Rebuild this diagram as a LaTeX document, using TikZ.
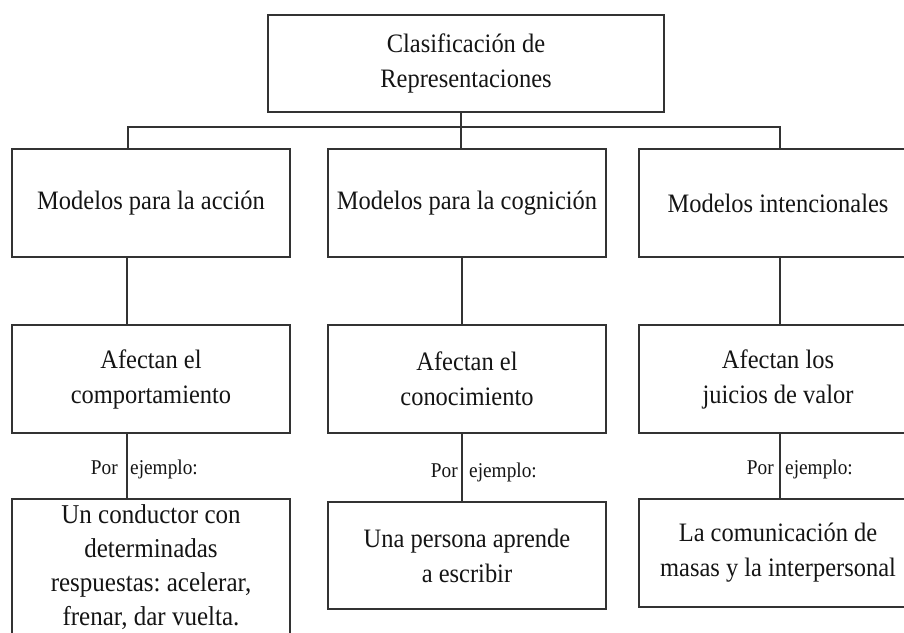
\documentclass[tikz,border=0pt]{standalone}
\usepackage{fontspec}
\setmainfont[FakeStretch=0.92]{Liberation Serif}
\frenchspacing
\begin{document}
\begin{tikzpicture}[x=1pt,y=-1pt,
  box/.style={draw=black!80, line width=1.2pt, rectangle, inner sep=0pt,
    minimum width=278pt, minimum height=108pt, align=center,
    font=\fontsize{26.6}{35}\selectfont, text=black!92},
  link/.style={draw=black!80, line width=1.2pt},
  ej/.style={font=\fontsize{21}{22}\selectfont, text=black!92, inner sep=0pt}]
\useasboundingbox (0,0) rectangle (904,632);
% top
\node[box, minimum width=396pt, minimum height=97pt] (top) at (466,63.5)
  {Clasificación de\\Representaciones};
% row 2
\node[box] (a2) at (151,203) {Modelos para la acción};
\node[box] (b2) at (467,203) {Modelos para la cognición};
\node[box] (c2) at (778,203) {Modelos intencionales};
% row 3
\node[box] (a3) at (151,379) {Afectan el\\comportamiento};
\node[box] (b3) at (467,379) {Afectan el\\conocimiento};
\node[box] (c3) at (778,379) {\raisebox{5pt}{\begin{tabular}{@{}c@{}}Afectan los\\[-0.5pt]juicios de valor\end{tabular}}};
% row 4
\node[box, minimum height=136pt, font=\fontsize{27.2}{34.2}\selectfont] (a4) at (151,567)
  {Un conductor con\\determinadas\\respuestas: acelerar,\\frenar, dar vuelta.};
\node[box, minimum height=107pt] (b4) at (467,555.5) {Una persona aprende\\a escribir};
\node[box] (c4) at (778,553) {La comunicación de\\masas y la interpersonal};
% bus
\coordinate (busL) at (128,127);
\coordinate (busM) at (461,127);
\coordinate (busR) at (780,127);
\draw[link] (top.south -| busM) -- (b2.north -| busM);
\draw[link] (busL |- a2.north) -- (busL) -- (busR) -- (busR |- c2.north);
% row 2 -> row 3
\draw[link] ([xshift=-24pt]a2.south) -- ([xshift=-24pt]a3.north);
\draw[link] ([xshift=-5pt]b2.south) -- ([xshift=-5pt]b3.north);
\draw[link] ([xshift=2pt]c2.south) -- ([xshift=2pt]c3.north);
% row 3 -> row 4
\draw[link] ([xshift=-24pt]a3.south) coordinate (pa) -- ([xshift=-24pt]a4.north);
\node[ej, anchor=base east] (pora) at ([xshift=-9pt, yshift=-41pt]pa) {Por};
\node[ej, anchor=base west] (eja) at ([xshift=3pt, yshift=-41pt]pa) {ejemplo:};
\draw[link] ([xshift=-5pt]b3.south) coordinate (pb) -- ([xshift=-5pt]b4.north);
\node[ej, anchor=base east] (porb) at ([xshift=-4pt, yshift=-44pt]pb) {Por};
\node[ej, anchor=base west] (ejb) at ([xshift=7pt, yshift=-44pt]pb) {ejemplo:};
\draw[link] ([xshift=2pt]c3.south) coordinate (pc) -- ([xshift=2pt]c4.north);
\node[ej, anchor=base east] (porc) at ([xshift=-6pt, yshift=-41pt]pc) {Por};
\node[ej, anchor=base west] (ejc) at ([xshift=5pt, yshift=-41pt]pc) {ejemplo:};
\end{tikzpicture}
\end{document}
